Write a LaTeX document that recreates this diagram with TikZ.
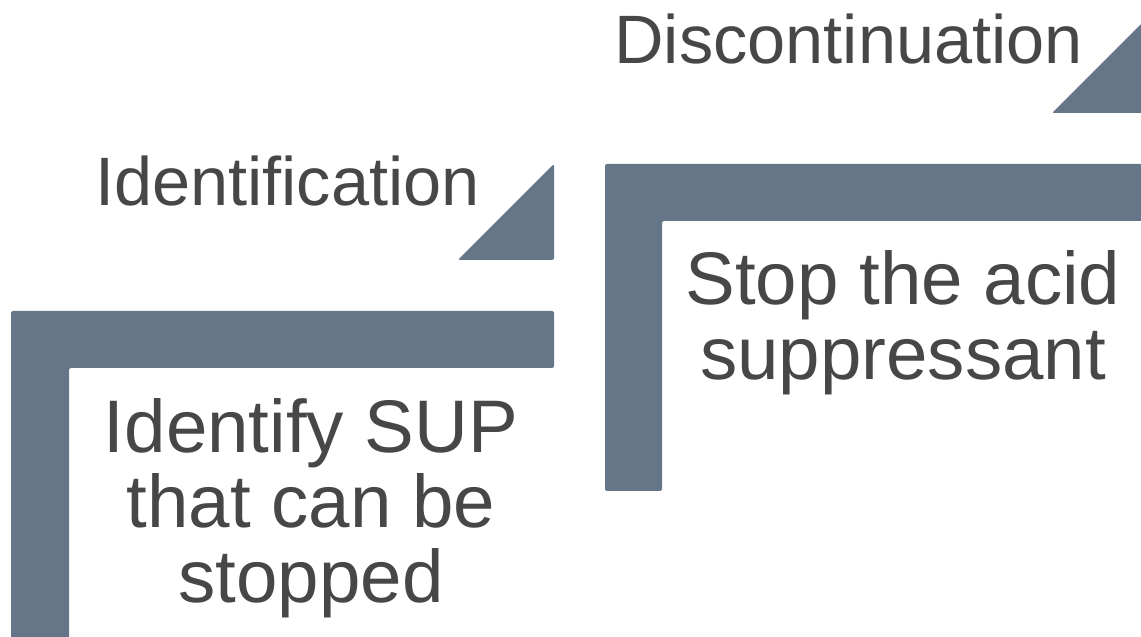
\documentclass[tikz,border=0pt]{standalone}
\usepackage{fontspec}
\setmainfont{Liberation Sans}
\definecolor{shape}{HTML}{667689}
\definecolor{txt}{HTML}{474747}
\begin{document}
\begin{tikzpicture}[x=1pt,y=1pt,
  bar/.style={fill=shape,draw=none,rounded corners=2pt},
  lbl/.style={text=txt,font=\fontsize{68.5}{75}\selectfont,inner sep=0pt},
  body/.style={text=txt,font=\fontsize{74.5}{75}\selectfont,inner sep=0pt,align=center,anchor=base}]
\useasboundingbox (0,0) rectangle (1141,637);
\clip (0,0) rectangle (1141,637);
% left L
\path[bar] (11,-10) -- (11,326) -- (554,326) -- (554,269) -- (69,269) -- (69,-10) -- cycle;
% triangle 1
\path[bar] (458,377) -- (554,473) -- (554,377) -- cycle;
% right L
\path[bar] (605,146) -- (605,473) -- (1160,473) -- (1160,416) -- (662,416) -- (662,146) -- cycle;
% triangle 2
\path[bar] (1052,524) -- (1160,632) -- (1160,524) -- cycle;
\node[lbl,anchor=base east] (ident) at (480,431) {Identification};
\node[lbl,anchor=base east] (disc) at (1083,573) {Discontinuation};
\node[body] (stop) at (903,257) {Stop the acid\\suppressant};
\node[body] (sup) at (311,34) {Identify SUP\\that can be\\stopped};
\end{tikzpicture}
\end{document}
